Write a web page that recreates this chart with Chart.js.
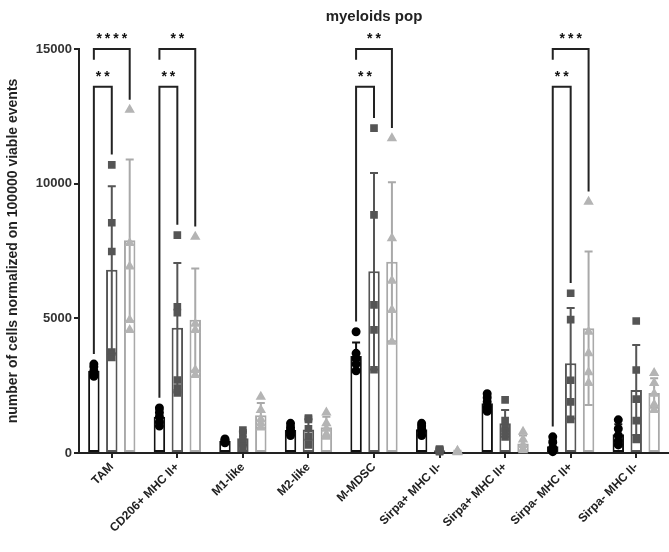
<!DOCTYPE html>
<html>
<head>
<meta charset="utf-8">
<script src="https://cdn.jsdelivr.net/npm/chart.js@4.4.0/dist/chart.umd.min.js"></script>
<style>
html, body { margin: 0; padding: 0; background: #fff; overflow: hidden; }
</style>
</head>
<body>
<canvas id="popChart" width="669" height="552"></canvas>
<script>
// categories on the x axis
const categories = ['TAM', 'CD206+ MHC II+', 'M1-like', 'M2-like', 'M-MDSC',
    'Sirpa+ MHC II-', 'Sirpa+ MHC II+', 'Sirpa- MHC II+', 'Sirpa- MHC II-'];
const yTicks = [0, 5000, 10000, 15000];

// group 1 (black, circles)
const mean1 = [3050, 1350, 450, 850, 3600, 880, 1850, 250, 700];
const sd1 = [150, 250, 60, 170, 500, 170, 260, 220, 370];
const pts1 = [
    [3300, 3200, 3050, 2900, 2850], [1670, 1500, 1350, 1150, 1000], [520, 480, 440, 400, 380],
    [1100, 950, 850, 750, 650], [4500, 3700, 3500, 3300, 3050], [1100, 1000, 900, 800, 650],
    [2200, 2050, 1900, 1700, 1550], [600, 400, 200, 100, 50], [1230, 900, 650, 450, 300]
];

// group 2 (dark grey, squares)
const mean2 = [6800, 4650, 550, 870, 6750, 100, 1100, 3330, 2340];
const sd2 = [3100, 2400, 250, 380, 3650, 40, 500, 2050, 1670];
const pts2 = [
    [10700, 8550, 7480, 3750, 3550], [8090, 5430, 5210, 2710, 2410, 2230], [850, 750, 500, 350, 250],
    [1300, 1250, 900, 600, 300], [12060, 8840, 5500, 4570, 3090], [150, 120, 100, 80, 50],
    [1970, 1200, 900, 800, 600], [5930, 4950, 2700, 1900, 1250], [4900, 3080, 2000, 1200, 500]
];

// group 3 (light grey, triangles)
const mean3 = [7900, 4950, 1400, 960, 7100, 50, 350, 4630, 2230];
const sd3 = [3000, 1900, 460, 390, 2950, 30, 300, 2850, 550];
const pts3 = [
    [12740, 7800, 6920, 4940, 4570], [8030, 4800, 4570, 3080, 2900], [2090, 1600, 1250, 1100, 950],
    [1500, 1100, 900, 700, 600], [11690, 7970, 6400, 5310, 4130], [80, 60, 50, 40, 30],
    [790, 500, 300, 150, 100], [9330, 4500, 3700, 3000, 2600], [2970, 2600, 2200, 1800, 1600]
];

// significance brackets
const brCat = [0, 0, 1, 1, 4, 4, 7, 7];
const brTo = [1, 2, 1, 2, 1, 2, 1, 2];
const brTop = [13600, 15000, 13600, 15000, 13600, 15000, 13600, 15000];
const brLabel = ['**', '****', '**', '**', '**', '**', '**', '***'];

const FONT = 'Arial, "Liberation Sans", sans-serif';

function mkSet(label, means, sds, pts, col, ptCol, style) {
    return {
        label: label,
        data: means,
        sd: sds,
        pts: pts,
        ptCol: ptCol,
        ptStyle: style,
        backgroundColor: '#ffffff',
        borderColor: col,
        borderWidth: 2,
        borderSkipped: false,
        categoryPercentage: 0.82,
        barPercentage: 0.64
    };
}

// error bars + individual values
const marksPlugin = {
    id: 'marks',
    afterDatasetsDraw(chart) {
        const ctx = chart.ctx;
        const ys = chart.scales.y;
        chart.data.datasets.forEach((ds, i) => {
            const meta = chart.getDatasetMeta(i);
            meta.data.forEach((bar, j) => {
                const x = bar.x;
                const m = ds.data[j], s = ds.sd[j];
                const top = ys.getPixelForValue(m + s);
                const lowV = Math.max(0, m - s);
                const bot = ys.getPixelForValue(lowV);
                ctx.save();
                ctx.strokeStyle = ds.borderColor;
                ctx.lineWidth = 2;
                ctx.beginPath();
                ctx.moveTo(x, top); ctx.lineTo(x, bot);
                ctx.moveTo(x - 4, top); ctx.lineTo(x + 4, top);
                if (lowV > 0) { ctx.moveTo(x - 4, bot); ctx.lineTo(x + 4, bot); }
                ctx.stroke();
                ctx.fillStyle = ds.ptCol;
                ctx.strokeStyle = ds.ptCol;
                ds.pts[j].forEach(v => {
                    Chart.helpers.drawPoint(ctx, {
                        pointStyle: ds.ptStyle, radius: ds.ptStyle === 'circle' ? 3.5 : 4,
                        rotation: 0, borderWidth: 1
                    }, x, ys.getPixelForValue(v));
                });
                ctx.restore();
            });
        });
    }
};

const bracketPlugin = {
    id: 'brackets',
    afterDraw(chart) {
        const ctx = chart.ctx;
        const ys = chart.scales.y;
        const sets = chart.data.datasets;
        const gap = 380;
        const maxOf = (s, c) => Math.max(sets[s].data[c] + sets[s].sd[c], ...sets[s].pts[c]);
        ctx.save();
        ctx.strokeStyle = '#222';
        ctx.lineWidth = 2;
        ctx.fillStyle = '#111';
        ctx.font = 'bold 14px ' + FONT;
        ctx.textAlign = 'center';
        ctx.textBaseline = 'middle';
        ctx.letterSpacing = '3px';
        brCat.forEach((c, k) => {
            const x0 = chart.getDatasetMeta(0).data[c].x;
            const x1 = chart.getDatasetMeta(brTo[k]).data[c].x;
            const yTop = ys.getPixelForValue(brTop[k]);
            const leftEnd = brTo[k] === 1 ? maxOf(0, c) + gap : brTop[k] - 400;
            const rightEnd = maxOf(brTo[k], c) + gap;
            ctx.beginPath();
            ctx.moveTo(x0, ys.getPixelForValue(leftEnd));
            ctx.lineTo(x0, yTop);
            ctx.lineTo(x1, yTop);
            ctx.lineTo(x1, ys.getPixelForValue(rightEnd));
            ctx.stroke();
            ctx.fillText(brLabel[k], (x0 + x1) / 2 + 1.5, yTop - 10);
        });
        ctx.restore();
    }
};

const config = {
    type: 'bar',
    data: {
        labels: categories,
        datasets: [
            mkSet('Group 1', mean1, sd1, pts1, '#111111', '#000000', 'circle'),
            mkSet('Group 2', mean2, sd2, pts2, '#555555', '#555555', 'rect'),
            mkSet('Group 3', mean3, sd3, pts3, '#a9a9a9', '#b4b4b4', 'triangle')
        ]
    },
    options: {
        responsive: false,
        animation: false,
        layout: { padding: 0 },
        plugins: {
            legend: { display: false },
            tooltip: { enabled: false },
            title: {
                display: true,
                text: 'myeloids pop',
                fullSize: false,
                color: '#222',
                font: { family: FONT, size: 15, weight: 'bold' },
                padding: { top: 8, bottom: 23 }
            }
        },
        scales: {
            x: {
                offset: true,
                grid: { display: true, drawOnChartArea: false, offset: false, tickLength: 5, color: '#222', lineWidth: 2 },
                border: { display: true, color: '#222', width: 2 },
                ticks: {
                    color: '#222', autoSkip: false, minRotation: 45, maxRotation: 45, padding: 2,
                    font: { family: FONT, size: 12, weight: 'bold' }
                },
                afterFit(scale) { scale.height = 99; }
            },
            y: {
                min: 0,
                max: 15000,
                afterBuildTicks(scale) { scale.ticks = yTicks.map(v => ({ value: v })); },
                grid: { display: true, drawOnChartArea: false, tickLength: 5, color: '#222', lineWidth: 2 },
                border: { display: true, color: '#222', width: 2 },
                ticks: {
                    color: '#333', padding: 2,
                    font: { family: FONT, size: 13, weight: 'bold' },
                    callback: v => String(v)
                },
                title: {
                    display: true,
                    text: 'number of cells normalized on 100000 viable events',
                    color: '#222',
                    font: { family: FONT, size: 14, weight: 'bold' },
                    padding: { top: 5, bottom: 0 }
                },
                afterFit(scale) { scale.width = 79; }
            }
        }
    },
    plugins: [marksPlugin, bracketPlugin]
};

new Chart(document.getElementById('popChart'), config);
</script>
</body>
</html>
